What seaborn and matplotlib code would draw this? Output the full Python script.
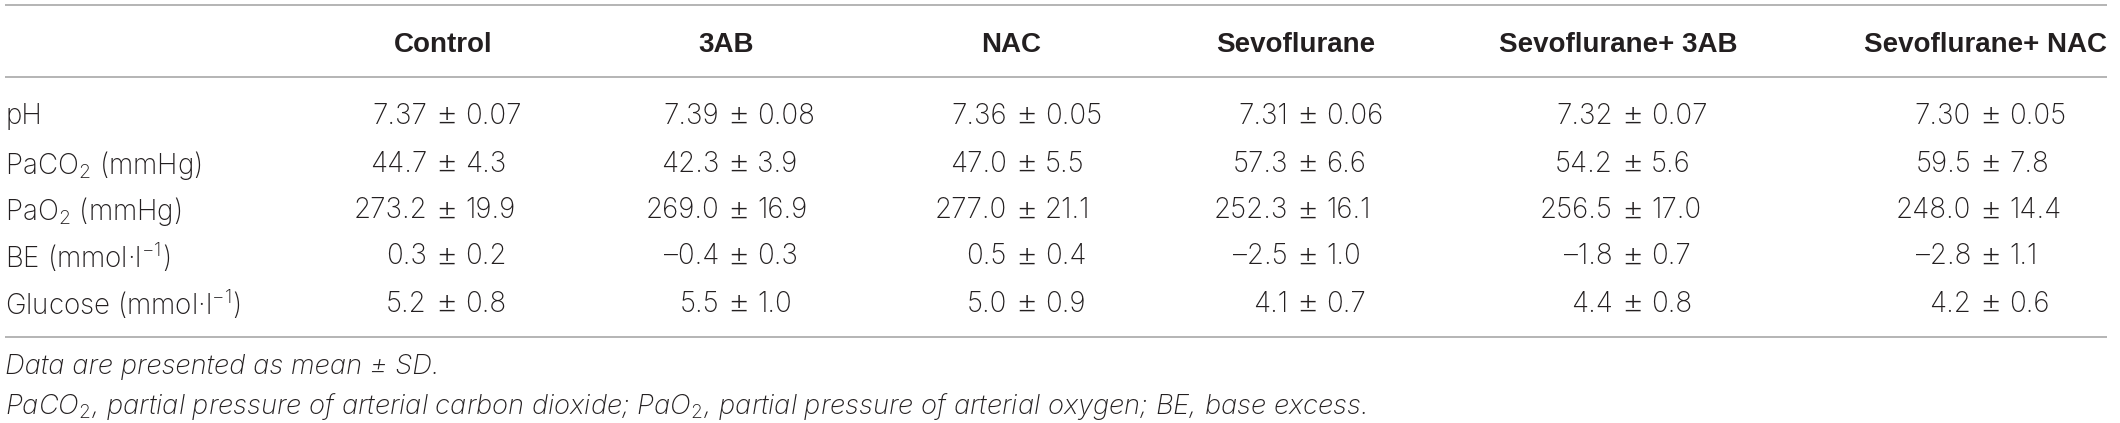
import matplotlib
matplotlib.use("Agg")
import matplotlib.pyplot as plt
from matplotlib import font_manager
import seaborn as sns

# ---------------- data ----------------
groups = ["Control", "3AB", "NAC", "Sevoflurane", "Sevoflurane+ 3AB", "Sevoflurane+ NAC"]
parameters = ["pH", "PaCO$_2$ (mmHg)", "PaO$_2$ (mmHg)", "BE (mmol\u00b7l$^{-1}$)", "Glucose (mmol\u00b7l$^{-1}$)"]
decimals = [2, 1, 1, 1, 1]

mean_control = [7.37, 44.7, 273.2, 0.3, 5.2]
sd_control = [0.07, 4.3, 19.9, 0.2, 0.8]
mean_3ab = [7.39, 42.3, 269.0, -0.4, 5.5]
sd_3ab = [0.08, 3.9, 16.9, 0.3, 1.0]
mean_nac = [7.36, 47.0, 277.0, 0.5, 5.0]
sd_nac = [0.05, 5.5, 21.1, 0.4, 0.9]
mean_sevo = [7.31, 57.3, 252.3, -2.5, 4.1]
sd_sevo = [0.06, 6.6, 16.1, 1.0, 0.7]
mean_sevo_3ab = [7.32, 54.2, 256.5, -1.8, 4.4]
sd_sevo_3ab = [0.07, 5.6, 17.0, 0.7, 0.8]
mean_sevo_nac = [7.30, 59.5, 248.0, -2.8, 4.2]
sd_sevo_nac = [0.05, 7.8, 14.4, 1.1, 0.6]

means = [mean_control, mean_3ab, mean_nac, mean_sevo, mean_sevo_3ab, mean_sevo_nac]
sds = [sd_control, sd_3ab, sd_nac, sd_sevo, sd_sevo_3ab, sd_sevo_nac]

footnote1 = "Data are presented as mean \u00b1 SD."
footnote2 = "PaCO$_2$, partial pressure of arterial carbon dioxide; PaO$_2$, partial pressure of arterial oxygen; BE, base excess."

# ---------------- style ----------------
sns.set_theme(style="white")
fonts = font_manager.fontManager.ttflist
names = {f.name for f in fonts}

body, body_w = "DejaVu Sans", "normal"
for cand in ["Inter", "Roboto", "Liberation Sans"]:
    if cand in names:
        body = cand
        body_w = "light" if any(f.name == cand and f.weight == 300 for f in fonts) else "normal"
        break
head = "Liberation Sans" if "Liberation Sans" in names else body

plt.rcParams["font.family"] = [body, "DejaVu Sans"]
plt.rcParams["mathtext.fontset"] = "custom"
wtag = ":weight=light" if body_w == "light" else ""
plt.rcParams["mathtext.rm"] = body + wtag
plt.rcParams["mathtext.it"] = body + ":italic" + wtag
plt.rcParams["mathtext.bf"] = body + ":bold"

W, H = 2120, 423
fig = plt.figure(figsize=(W / 100, H / 100), dpi=100)
ax = fig.add_axes([0, 0, 1, 1])
ax.set_xlim(0, W)
ax.set_ylim(H, 0)
ax.axis("off")

text_color = "#231f20"
line_color = "#a0a0a0"
fs = 20
fs_head = 20

# layout
x_left = 5
x_right = 2107
y_top_line = 5.5
y_head_line = 77
y_bottom_line = 337
y_header = 42
row_y = [113, 161, 208, 254, 301]
foot_y = [364, 402]
foot_target_width = 1362
header_x = [443, 726, 1011, 1296, 1618, 1985]
pm_x = [446, 738, 1026, 1307, 1632, 1990]
gap = 19

for y in (y_top_line, y_head_line, y_bottom_line):
    ax.plot([x_left, x_right], [y, y], color=line_color, lw=1.1, solid_capstyle="butt")

for g, hx in zip(groups, header_x):
    ax.text(hx, y_header, g, ha="center", va="center_baseline", fontsize=fs_head,
            fontweight="bold", family=head, color=text_color)

for lab, y in zip(parameters, row_y):
    ax.text(x_left, y, lab, ha="left", va="center_baseline", fontsize=fs,
            fontweight=body_w, color=text_color)

def fmt(v, d):
    s = f"{abs(v):.{d}f}"
    return ("\u2013" + s) if v < 0 else s

for gi, px in enumerate(pm_x):
    for ri, y in enumerate(row_y):
        d = decimals[ri]
        ax.text(px - gap, y, fmt(means[gi][ri], d), ha="right", va="center_baseline",
                fontsize=fs, fontweight=body_w, color=text_color)
        ax.text(px, y, "\u00b1", ha="center", va="center_baseline", fontsize=fs * 1.25,
                fontweight=body_w, color=text_color)
        ax.text(px + gap, y, fmt(sds[gi][ri], d), ha="left", va="center_baseline",
                fontsize=fs, fontweight=body_w, color=text_color)

f1 = ax.text(x_left, foot_y[0], footnote1, ha="left", va="center_baseline", fontsize=fs,
             style="italic", fontweight=body_w, color=text_color)
f2 = ax.text(x_left, foot_y[1], footnote2, ha="left", va="center_baseline", fontsize=fs,
             style="italic", fontweight=body_w, color=text_color)
renderer = fig.canvas.get_renderer()
w2 = f2.get_window_extent(renderer).width
fs_foot = max(17.0, min(22.0, fs * foot_target_width / w2))
f1.set_fontsize(fs_foot)
f2.set_fontsize(fs_foot)

fig.savefig("out.png", dpi=100, facecolor="white")
